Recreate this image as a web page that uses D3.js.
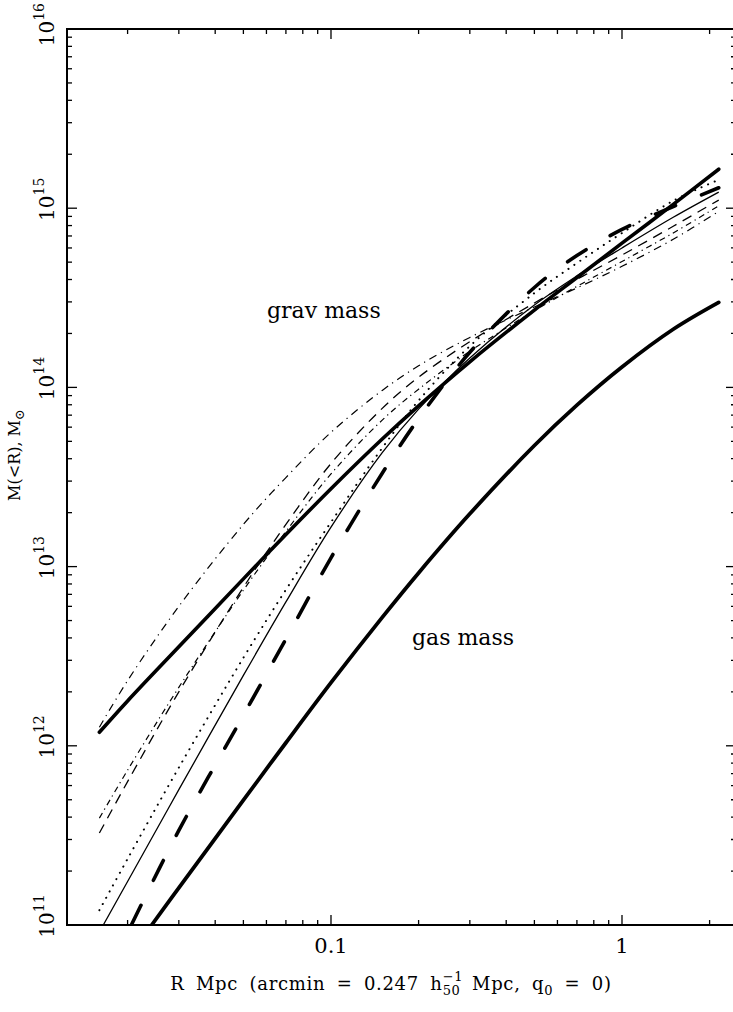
<!DOCTYPE html>
<html lang="en">
<head>
<meta charset="UTF-8" />
<title>M(&lt;R) against R</title>
<script src="https://d3js.org/d3.v7.min.js"></script>
<style>
  body { margin: 0; background: #fff; }
  svg { display: block; }
  text { font-family: "DejaVu Serif", serif; fill: #000; }
</style>
</head>
<body>
<script>
// radius grid (Mpc) that the grav mass curves are read on
const radius = [0.016, 0.02, 0.03, 0.05, 0.07, 0.1, 0.15, 0.2, 0.3, 0.5, 0.7, 1, 1.5, 2.15];
// curves that only come in through the bottom of the plot start further out
const radiusThin = [0.0165, 0.02, 0.03, 0.05, 0.07, 0.1, 0.15, 0.2, 0.3, 0.5, 0.7, 1, 1.5, 2.15];
const radiusLongDash = [0.0206, 0.03, 0.05, 0.07, 0.1, 0.15, 0.2, 0.3, 0.5, 0.7, 1, 1.5, 2.15];
const radiusGas = [0.0242, 0.03, 0.05, 0.07, 0.1, 0.15, 0.2, 0.3, 0.5, 0.7, 1, 1.5, 2.15];

// enclosed mass, solar masses
const massThickSolid = [1.19e12, 1.78e12, 3.57e12, 8.54e12, 1.51e13, 2.72e13, 5.15e13, 7.89e13, 1.39e14, 2.70e14, 4.10e14, 6.38e14, 1.05e15, 1.65e15];
const massThinSolid = [1.0e11, 1.75e11, 5.69e11, 2.47e12, 6.35e12, 1.66e13, 4.32e13, 7.57e13, 1.46e14, 2.88e14, 4.19e14, 6.00e14, 8.90e14, 1.23e15];
const massDotted = [1.21e11, 2.34e11, 7.56e11, 3.10e12, 7.43e12, 1.77e13, 4.59e13, 8.44e13, 1.70e14, 3.36e14, 4.94e14, 7.27e14, 1.10e15, 1.44e15];
const massLongDash = [1.0e11, 3.37e11, 1.48e12, 3.94e12, 1.12e13, 3.32e13, 6.69e13, 1.57e14, 3.61e14, 5.44e14, 7.62e14, 1.02e15, 1.30e15];
const massDashed = [3.26e11, 6.31e11, 2.00e12, 7.66e12, 1.72e13, 3.76e13, 7.64e13, 1.14e14, 1.80e14, 2.96e14, 4.01e14, 5.48e14, 7.93e14, 1.11e15];
const massDashDot = [3.95e11, 7.31e11, 2.12e12, 7.38e12, 1.57e13, 3.29e13, 6.57e13, 9.77e13, 1.59e14, 2.68e14, 3.66e14, 5.04e14, 7.28e14, 1.03e15];
const massDashDotUpper = [1.27e12, 2.31e12, 6.00e12, 1.72e13, 3.14e13, 5.61e13, 9.62e13, 1.32e14, 1.90e14, 2.81e14, 3.59e14, 4.74e14, 6.71e14, 9.60e14];
const massGas = [1.0e11, 1.61e11, 4.97e11, 1.04e12, 2.25e12, 5.21e12, 9.22e12, 1.97e13, 4.74e13, 7.96e13, 1.30e14, 2.11e14, 2.98e14];

const xLabels = [0.1, 1];
const yDecades = [11, 12, 13, 14, 15, 16];

const W = 733, H = 1012;
const pLeft = 67, pRight = 736, pTop = 29, pBottom = 925;

const svg = d3.select("body").append("svg")
  .attr("width", W).attr("height", H);

const x = d3.scaleLog().domain([0.012383, 2.4647]).range([pLeft, pRight]);
const y = d3.scaleLog().domain([1e11, 1e16]).range([pBottom, pTop]);

svg.append("clipPath").attr("id", "plot")
  .append("rect").attr("x", pLeft).attr("y", pTop)
  .attr("width", pRight - pLeft).attr("height", pBottom - pTop);

const curves = [
  { r: radiusGas, m: massGas, w: 3.8, dash: null, cap: "round" },
  { r: radius, m: massDashDotUpper, w: 1.2, dash: "8 5 1.2 5", cap: "butt" },
  { r: radius, m: massDashDot, w: 1.2, dash: "6 4 1.2 4", cap: "butt" },
  { r: radius, m: massDashed, w: 1.3, dash: "10 7", cap: "butt" },
  { r: radius, m: massDotted, w: 2, dash: "0.1 7", cap: "round" },
  { r: radiusThin, m: massThinSolid, w: 1.3, dash: null, cap: "butt" },
  { r: radiusLongDash, m: massLongDash, w: 3.6, dash: "22 28", cap: "round" },
  { r: radius, m: massThickSolid, w: 3.6, dash: null, cap: "round" }
];

const line = d3.line()
  .x(d => x(d[0]))
  .y(d => y(d[1]))
  .curve(d3.curveCatmullRom.alpha(0.5));

const plot = svg.append("g").attr("clip-path", "url(#plot)");
curves.forEach(c => {
  plot.append("path")
    .datum(c.r.map((r, i) => [r, c.m[i]]))
    .attr("d", line)
    .attr("fill", "none")
    .attr("stroke", "#000")
    .attr("stroke-width", c.w)
    .attr("stroke-linecap", c.cap)
    .attr("stroke-dasharray", c.dash);
});

// frame
svg.append("rect")
  .attr("x", pLeft).attr("y", pTop)
  .attr("width", pRight - pLeft).attr("height", pBottom - pTop)
  .attr("fill", "none").attr("stroke", "#000").attr("stroke-width", 2);

// log ticks, 1..9 in each decade, on all four sides
const ticks = svg.append("g").attr("stroke", "#000").attr("stroke-width", 1.3);
const xTicks = [];
for (let k = -2; k <= 0; k++)
  for (let m = 1; m <= 9; m++) {
    const v = m * Math.pow(10, k);
    if (v >= x.domain()[0] && v <= x.domain()[1]) xTicks.push({ v, major: m === 1 });
  }
xTicks.forEach(t => {
  const px = x(t.v), len = t.major ? 10 : 5;
  ticks.append("line").attr("x1", px).attr("x2", px).attr("y1", pBottom).attr("y2", pBottom - len);
  ticks.append("line").attr("x1", px).attr("x2", px).attr("y1", pTop).attr("y2", pTop + len);
});
const yTicks = [];
for (let k = 11; k <= 16; k++)
  for (let m = 1; m <= 9; m++) {
    const v = m * Math.pow(10, k);
    if (v <= 1e16) yTicks.push({ v, major: m === 1 });
  }
yTicks.forEach(t => {
  const py = y(t.v), len = t.major ? 10 : 5;
  ticks.append("line").attr("x1", pLeft).attr("x2", pLeft + len).attr("y1", py).attr("y2", py);
  ticks.append("line").attr("x1", pRight).attr("x2", pRight - len).attr("y1", py).attr("y2", py);
});

// x tick labels
svg.append("g").selectAll("text").data(xLabels).join("text")
  .attr("x", d => x(d)).attr("y", 953)
  .attr("text-anchor", "middle")
  .style("font-size", "21px")
  .text(d => d3.format("~g")(d));

// y tick labels, 10^k turned on their side; the top one is pushed down to stay on the page
yDecades.forEach(k => {
  const g = svg.append("g");
  const t = g.append("text").style("font-size", "20px");
  const base = t.append("tspan").text("10");
  t.append("tspan").attr("dy", -10).style("font-size", "14px").text(k);
  const w10 = base.node().getComputedTextLength();
  const total = t.node().getComputedTextLength();
  let start = y(Math.pow(10, k)) + w10 / 2;
  if (start - total < 3) start = total + 3;
  g.attr("transform", `translate(54,${start}) rotate(-90)`);
});

// y axis title
svg.append("text")
  .attr("transform", "translate(20,455) rotate(-90)")
  .attr("text-anchor", "middle")
  .style("font-size", "16px")
  .call(t => {
    t.append("tspan").text("M(<R), M");
    t.append("tspan").attr("dy", 4).style("font-size", "13px").text("\u2299");
  });

// x axis title with stacked h_50^-1
const xt = svg.append("text")
  .attr("x", 391).attr("y", 990)
  .attr("text-anchor", "middle")
  .style("font-size", "18px")
  .style("letter-spacing", "0.7px")
  .style("word-spacing", "5px");
xt.append("tspan").text("R Mpc (arcmin = 0.247 h");
const sup = xt.append("tspan").attr("dy", -9).style("font-size", "13px").text("\u22121");
xt.append("tspan").attr("dy", 14)
  .attr("dx", -sup.node().getComputedTextLength())
  .style("font-size", "13px").text("50");
xt.append("tspan").attr("dy", -5).text(" Mpc, q");
xt.append("tspan").attr("dy", 5).style("font-size", "13px").text("0");
xt.append("tspan").attr("dy", -5).text(" = 0)");

// curve group labels
svg.append("text").attr("x", 267).attr("y", 318)
  .style("font-size", "22px").text("grav mass");
svg.append("text").attr("x", 412).attr("y", 645)
  .style("font-size", "22px").text("gas mass");
</script>
</body>
</html>
